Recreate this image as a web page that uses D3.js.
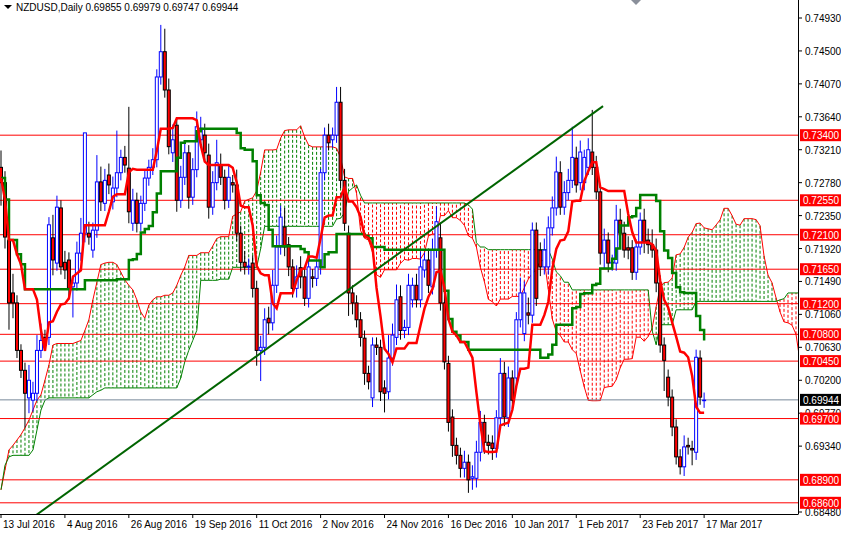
<!DOCTYPE html>
<html><head><meta charset="utf-8">
<script src="https://cdn.jsdelivr.net/npm/d3@7"></script>
<style>body{margin:0;background:#fff}svg{display:block;font-family:"Liberation Sans",Arial,sans-serif}</style>
</head><body><svg id="c" width="841" height="533"></svg>
<script>
const opens=[0.7298,0.7278,0.7203,0.7134,0.7121,0.7059,0.7033,0.6997,0.6994,0.7003,0.7059,0.7076,0.7076,0.7206,0.7173,0.7245,0.7174,0.7177,0.7142,0.7147,0.7186,0.7212,0.7212,0.7190,0.7216,0.7279,0.7251,0.7288,0.7253,0.7271,0.7291,0.7311,0.7297,0.7225,0.7255,0.7225,0.7251,0.7284,0.7298,0.7308,0.7416,0.7449,0.7399,0.7317,0.7353,0.7255,0.7285,0.7317,0.7259,0.7295,
0.7334,0.7340,0.7314,0.7246,0.7278,0.7301,0.7285,0.7255,0.7278,0.7275,0.7212,0.7174,0.7168,0.7173,0.7140,0.7059,0.7063,0.7101,0.7095,0.7144,0.7194,0.7220,0.7197,0.7168,0.7140,0.7167,0.7155,0.7127,0.7155,0.7153,0.7168,0.7291,0.7340,0.7334,0.7340,0.7383,0.7281,0.7212,0.7134,0.7121,0.7099,0.7075,0.7029,0.6997,0.7066,0.7063,0.7010,0.7005,0.7049,
0.7076,0.7129,0.7085,0.7089,0.7125,0.7144,0.7125,0.7164,0.7177,0.7142,0.7190,0.7206,0.7121,0.7042,0.6972,0.6935,0.6922,0.6905,0.6913,0.6892,0.6892,0.6926,0.6965,0.6939,0.6938,0.6931,0.6971,0.7029,0.6971,0.7023,0.7023,0.7099,0.7081,0.7108,0.7105,0.7216,0.7190,0.7168,0.7168,0.7219,0.7245,0.7291,0.7246,0.7265,0.7281,0.7310,0.7278,0.7278,0.7298,
0.7318,0.7298,0.7266,0.7186,0.7203,0.7173,0.7173,0.7229,0.7212,0.7193,0.7193,0.7161,0.7194,0.7229,0.7203,0.7197,0.7190,0.7147,0.7066,0.7024,0.6998,0.6959,0.6920,0.6907,0.6935,0.6931,0.6926,0.7049,0.6994];
const closes=[0.7278,0.7207,0.7121,0.7121,0.7059,0.7033,0.7003,0.7020,0.7003,0.7059,0.7072,0.7068,0.7223,0.7177,0.7246,0.7168,0.7164,0.7140,0.7147,0.7186,0.7212,0.7343,0.7207,0.7216,0.7279,0.7253,0.7281,0.7275,0.7271,0.7291,0.7311,0.7301,0.7240,0.7255,0.7225,0.7251,0.7284,0.7298,0.7308,0.7416,0.7449,0.7399,0.7325,0.7334,0.7255,0.7285,0.7317,0.7259,0.7295,0.7351,
0.7349,0.7317,0.7246,0.7278,0.7304,0.7285,0.7255,0.7285,0.7275,0.7212,0.7174,0.7168,0.7169,0.7140,0.7059,0.7063,0.7099,0.7095,0.7144,0.7194,0.7233,0.7194,0.7168,0.7140,0.7155,0.7155,0.7127,0.7168,0.7153,0.7168,0.7291,0.7340,0.7330,0.7340,0.7383,0.7281,0.7225,0.7134,0.7121,0.7099,0.7076,0.7029,0.7018,0.7066,0.7063,0.7005,0.7003,0.7049,0.7079,
0.7125,0.7085,0.7089,0.7144,0.7144,0.7125,0.7168,0.7177,0.7144,0.7190,0.7227,0.7121,0.7044,0.6965,0.6935,0.6922,0.6905,0.6913,0.6890,0.6894,0.6926,0.6965,0.6939,0.6935,0.6931,0.6971,0.7029,0.6972,0.7023,0.6994,0.7099,0.7134,0.7134,0.7105,0.7216,0.7127,0.7168,0.7190,0.7219,0.7245,0.7292,0.7246,0.7265,0.7281,0.7311,0.7275,0.7318,0.7311,0.7321,
0.7298,0.7266,0.7186,0.7203,0.7173,0.7174,0.7229,0.7212,0.7190,0.7190,0.7161,0.7194,0.7229,0.7201,0.7197,0.7190,0.7147,0.7066,0.7046,0.6998,0.6959,0.6920,0.6907,0.6933,0.6933,0.6929,0.7050,0.6998,0.6994];
const wickUp=[22,15,10,25,10,8,10,20,15,20,22,10,10,30,15,10,15,10,10,15,20,0,15,10,35,20,15,15,15,55,10,15,80,15,10,10,10,10,15,10,35,30,15,20,10,15,15,10,15,20,
15,15,15,15,30,15,10,15,10,20,10,15,10,10,10,15,15,15,20,15,15,25,10,10,15,15,10,15,10,10,5,10,15,10,20,20,15,10,10,10,10,10,10,10,10,10,10,30,15,
20,15,10,15,10,15,20,10,15,15,20,20,15,10,10,10,10,15,10,15,15,15,10,10,10,10,20,15,15,10,10,20,15,20,10,10,10,15,15,15,20,15,15,15,40,15,15,10,15,
55,15,10,15,10,10,20,15,15,15,10,10,10,15,15,20,15,10,10,10,10,10,10,15,10,10,10,10,10];
const wickDown=[30,15,35,20,10,10,45,20,15,10,10,10,10,20,10,10,12,15,40,10,10,12,10,10,10,12,10,12,10,12,10,10,15,10,12,10,10,10,10,10,10,10,10,12,15,10,10,15,10,10,
10,10,15,10,10,10,12,10,10,10,12,10,10,12,20,40,10,15,10,10,10,12,12,12,12,15,10,12,12,10,10,10,10,10,10,10,10,30,15,10,12,15,10,12,10,12,25,10,10,
10,12,10,10,10,10,10,10,10,10,10,10,10,12,15,12,12,12,17,15,12,12,15,12,15,12,10,12,12,10,12,10,10,12,10,10,12,10,10,10,10,10,10,10,10,10,10,10,10,
10,10,15,20,12,10,10,10,10,12,10,10,10,15,12,10,12,10,40,12,12,10,10,12,10,20,10,10,10];
// Senkou spans already plotted before the visible history reaches 52 bars
const priorSpanA=[0.6877,0.6903,0.6929,0.6935,0.6942,0.6949,0.6958,0.6968,0.6981,0.6994,0.7001,0.7020,0.7040,0.7066,0.7068,0.7068,0.7068,0.7068,0.7068,0.7070,0.7072,0.7085,0.7099,0.7125,0.7148,0.7171,
0.7173,0.7174,0.7174,0.7171,0.7161,0.7151,0.7144,0.7138,0.7125,0.7109,0.7101,0.7118,0.7125,0.7129,0.7129,0.7131,0.7131,0.7134,0.7144,0.7157,0.7168,0.7183,0.7183,0.7183];
const priorSpanB=[0.6877,0.6909,0.6920,0.6922,0.6922,0.6922,0.6922,0.6922,0.6929,0.6955,0.6981,0.6994,0.6997,0.6997,0.6997,0.6997,0.6997,0.6997,0.6997,0.6997,0.6997,0.6997,0.6997,0.7001,0.7005,0.7007,
0.7010,0.7010,0.7010,0.7010,0.7010,0.7010,0.7010,0.7010,0.7010,0.7010,0.7010,0.7010,0.7010,0.7010,0.7010,0.7010,0.7010,0.7010,0.7010,0.7023,0.7044,0.7059,0.7072,0.7085];
const levels=[0.7340,0.7255,0.7210,0.7165,0.7120,0.7080,0.7045,0.6970,0.6890,0.6860];
const tickVals=[0.74930,0.74500,0.74070,0.73640,0.73210,0.72780,0.72350,0.71920,0.71490,0.71060,0.70630,0.70200,0.69770,0.69340,0.68480];
const dateLabels=["13 Jul 2016","4 Aug 2016","26 Aug 2016","19 Sep 2016","11 Oct 2016","2 Nov 2016","24 Nov 2016","16 Dec 2016","10 Jan 2017","1 Feb 2017","23 Feb 2017","17 Mar 2017"];
const dateBars=[0,16,32,48,64,80,96,112,128,144,160,176];
const trend=[{bar:8,price:0.6841},{bar:150.7,price:0.7378}];
const lastPrice=0.69944;

const svg=d3.select("#c");
const W=798,H=514;
const x=d3.scaleLinear().domain([0,199]).range([1,796]);
const y=d3.scaleLinear().domain([0.68480,0.74930]).range([512,18]);
const n=closes.length;
const highs=closes.map((c,i)=>Math.max(c,opens[i])+wickUp[i]*0.0001);
const lows=closes.map((c,i)=>Math.min(c,opens[i])-wickDown[i]*0.0001);
function mid(p,i){const s=Math.max(0,i-p+1);return (d3.max(highs.slice(s,i+1))+d3.min(lows.slice(s,i+1)))/2;}
const tenkan=d3.range(n).map(i=>mid(9,i)), kijun=d3.range(n).map(i=>mid(26,i));
const spanA=[],spanB=[];
for(let i=0;i<n+26;i++){
  if(i<priorSpanA.length){spanA.push(priorSpanA[i]);spanB.push(priorSpanB[i]);}
  else{const j=i-26;spanA.push((tenkan[j]+kijun[j])/2);spanB.push(mid(52,j));}
}
svg.append("clipPath").attr("id","cp").append("rect").attr("x",0).attr("y",0).attr("width",W).attr("height",H);
const g=svg.append("g").attr("clip-path","url(#cp)");
spanA.forEach((a,i)=>{const b=spanB[i];
  g.append("line").attr("x1",x(i)).attr("x2",x(i)).attr("y1",y(a)).attr("y2",y(b))
   .attr("stroke",a>=b?"#008000":"#ff0000").attr("stroke-width",1).attr("stroke-dasharray","3,2");});
g.append("path").datum(spanA).attr("fill","none").attr("stroke","#ff0000").attr("stroke-width",1)
 .attr("d",d3.line().x((d,i)=>x(i)).y(d=>y(d)));
g.append("path").datum(spanB).attr("fill","none").attr("stroke","#008000").attr("stroke-width",1)
 .attr("d",d3.line().x((d,i)=>x(i)).y(d=>y(d)));
levels.forEach(l=>g.append("line").attr("x1",0).attr("x2",W).attr("y1",y(l)).attr("y2",y(l)).attr("stroke","#ff0000").attr("stroke-width",1));
g.append("line").attr("x1",0).attr("x2",W).attr("y1",y(lastPrice)).attr("y2",y(lastPrice)).attr("stroke","#778899");
for(let i=0;i<n;i++){
  const bull=closes[i]>=opens[i], col=bull?"#0000ff":"#000";
  g.append("line").attr("x1",x(i)).attr("x2",x(i)).attr("y1",y(highs[i])).attr("y2",y(lows[i])).attr("stroke",col);
  const t=y(Math.max(opens[i],closes[i])), b=y(Math.min(opens[i],closes[i]));
  g.append("rect").attr("x",x(i)-1.5).attr("y",t).attr("width",3).attr("height",Math.max(0.5,b-t))
   .attr("fill",bull?"#fff":"#ff0000").attr("stroke",col).attr("stroke-width",1);
}
g.append("path").datum(kijun).attr("fill","none").attr("stroke","#008000").attr("stroke-width",2.5).attr("d",d3.line().x((d,i)=>x(i)).y(d=>y(d)).curve(d3.curveStepAfter));
g.append("path").datum(tenkan).attr("fill","none").attr("stroke","#ff0000").attr("stroke-width",2.5).attr("d",d3.line().x((d,i)=>x(i)).y(d=>y(d)));
g.append("line").attr("x1",x(trend[0].bar)).attr("y1",y(trend[0].price)).attr("x2",x(trend[1].bar)).attr("y2",y(trend[1].price)).attr("stroke","#006400").attr("stroke-width",2);
svg.append("line").attr("x1",W+0.5).attr("x2",W+0.5).attr("y1",0).attr("y2",H).attr("stroke","#000");
svg.append("line").attr("x1",0).attr("x2",W+0.5).attr("y1",H+0.5).attr("y2",H+0.5).attr("stroke","#000");
tickVals.forEach(v=>{svg.append("line").attr("x1",W).attr("x2",W+4).attr("y1",y(v)).attr("y2",y(v)).attr("stroke","#000");
  svg.append("text").attr("x",805).attr("y",y(v)+4).attr("font-size",10).text(v.toFixed(5));});
levels.forEach(l=>{svg.append("rect").attr("x",800).attr("y",y(l)-6).attr("width",41).attr("height",12).attr("fill","#ff0000");
  svg.append("text").attr("x",803).attr("y",y(l)+4).attr("font-size",10).attr("fill","#fff").text(l.toFixed(5));});
svg.append("rect").attr("x",800).attr("y",y(lastPrice)-6).attr("width",41).attr("height",12).attr("fill","#000");
svg.append("text").attr("x",803).attr("y",y(lastPrice)+4).attr("font-size",10).attr("fill","#fff").text(lastPrice.toFixed(5));
dateBars.forEach((b,k)=>{svg.append("line").attr("x1",x(b)).attr("x2",x(b)).attr("y1",H).attr("y2",H+4).attr("stroke","#000");
  svg.append("text").attr("x",x(b)+2).attr("y",528).attr("font-size",10).text(dateLabels[k]);});
svg.append("path").attr("d","M4,5 L12,5 L8,9 Z").attr("fill","#000");
svg.append("text").attr("x",16).attr("y",11).attr("font-size",10).attr("fill","#000").text("NZDUSD,Daily  0.69855 0.69979 0.69747 0.69944");
svg.append("path").attr("d","M631,0 L641,0 L636,5 Z").attr("fill","#8a8f9a");
</script></body></html>
